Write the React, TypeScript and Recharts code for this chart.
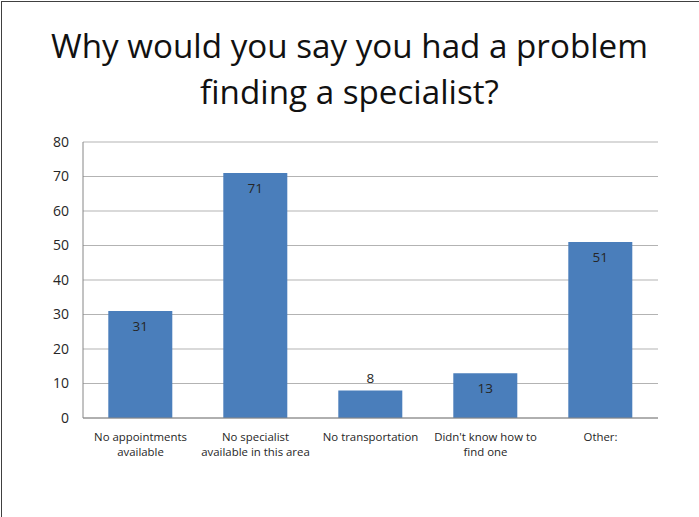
import React from "react";
import { BarChart, Bar, XAxis, YAxis, CartesianGrid, LabelList } from "recharts";

const categories = [
  "No appointments\navailable",
  "No specialist\navailable in this area",
  "No transportation",
  "Didn't know how to\nfind one",
  "Other:",
];
const values = [31, 71, 8, 13, 51];
const yTicks = [0, 10, 20, 30, 40, 50, 60, 70, 80];
const titleLines = ["Why would you say you had a problem", "finding a specialist?"];

const data = categories.map((c, i) => ({ name: c, value: values[i] }));

const FONT = "'Open Sans', 'Noto Sans', sans-serif";

const XTick = (props: any) => {
  const { x, y, payload } = props;
  const lines = String(payload.value).split("\n");
  return (
    <g transform={`translate(${x},${y})`}>
      {lines.map((l: string, i: number) => (
        <text key={i} x={0} y={i * 15} dy="0.71em" textAnchor="middle" fontSize={11.4} fill="#262626" fontFamily={FONT}>
          {l}
        </text>
      ))}
    </g>
  );
};

const ValueLabel = (props: any) => {
  const { x, y, width, height, value } = props;
  const inside = height > 32;
  const ty = inside ? y + 15 : y - 12;
  return (
    <text x={x + width / 2} y={ty} textAnchor="middle" dominantBaseline="central" fontSize={13.5} fill="#262626" fontFamily={FONT}>
      {value}
    </text>
  );
};

export default function App() {
  return (
    <div style={{ position: "absolute", left: 0, top: 0, width: 699, height: 517, background: "#fff", overflow: "hidden" }}>
      <div style={{ position: "absolute", left: 1, top: 1, width: 720, height: 540, borderLeft: "1.5px solid #404040", borderTop: "1.5px solid #404040" }} />
      <div style={{ position: "absolute", left: 0, top: 0, width: 699, textAlign: "center", fontFamily: FONT, fontSize: 33.2, color: "#111", lineHeight: "46px", paddingTop: 23 }}>
        {titleLines.map((t, i) => (
          <div key={i}>{t}</div>
        ))}
      </div>
      <div style={{ position: "absolute", left: 0, top: 0 }}>
        <BarChart width={699} height={517} data={data} margin={{ top: 142, right: 41, bottom: 0, left: 0 }} barCategoryGap="22%">
          <CartesianGrid vertical={false} stroke="#b3b3b3" strokeWidth={1} />
          <XAxis dataKey="name" height={99} tick={<XTick />} tickLine={false} axisLine={{ stroke: "#868686" }} interval={0} tickSize={0} tickMargin={15} />
          <YAxis width={83} domain={[0, 80]} ticks={yTicks} tickLine={false} axisLine={{ stroke: "#868686" }} tickSize={0} tickMargin={14} tick={{ fontSize: 14, fill: "#262626", fontFamily: FONT }} />
          <Bar dataKey="value" fill="#4a7ebb" isAnimationActive={false}>
            <LabelList dataKey="value" content={<ValueLabel />} />
          </Bar>
        </BarChart>
      </div>
    </div>
  );
}
